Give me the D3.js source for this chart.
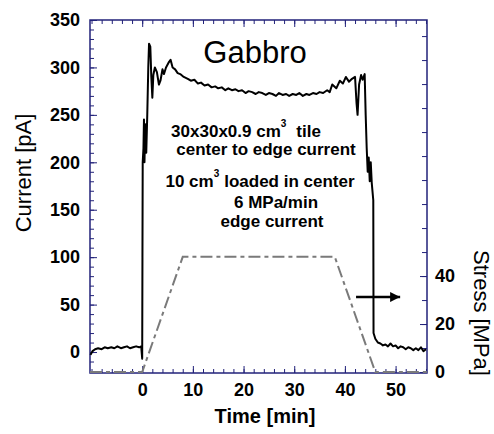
<!DOCTYPE html>
<html>
<head>
<meta charset="utf-8">
<script src="https://cdn.jsdelivr.net/npm/d3@7"></script>
<style>
  body { margin: 0; background: #fff; }
  svg { font-family: "Liberation Sans", Arial, Helvetica, sans-serif; }
  .tick text { font-weight: bold; font-size: 18px; fill: #000; }
  .tick line { stroke: #22227a; }
</style>
</head>
<body>
<svg id="chart" width="494" height="434"></svg>
<script>
// current (pA) vs time (min)
const currentTime = [
  -10.2, -9.8, -9.3, -8.7, -8.0, -7.4, -6.8, -6.1, -5.5, -4.9, -4.2, -3.6, -3.0, -2.4, -1.8, -1.2, -0.6, -0.2,
  0.0, 0.05, 0.1, 0.25, 0.35, 0.45, 0.6, 0.8, 1.0, 1.2, 1.35, 1.6, 1.8, 2.0, 2.2, 2.5, 2.9, 3.3, 3.6, 4.0, 4.3,
  4.7, 5.2, 5.6, 6.0, 6.5, 7.0, 7.5, 8.2, 9.0, 9.6, 10.3, 11.0, 11.6, 12.3, 13.0, 13.7, 14.4, 15.0, 15.7, 16.4,
  17.0, 17.7, 18.4, 19.0, 19.7, 20.4, 21.0, 21.7, 22.4, 23.0, 23.7, 24.4, 25.0, 25.7, 26.4, 27.0, 27.7, 28.4,
  29.0, 29.7, 30.4, 31.0, 31.7, 32.4, 33.0, 33.7, 34.4, 35.0, 35.7, 36.5, 37.0, 37.5, 38.3, 39.0,
  39.6, 40.2, 40.8, 41.4, 42.0, 42.3, 42.5, 42.8, 43.2, 43.5, 43.9, 44.1, 44.3, 44.5, 44.7, 44.9, 45.1, 45.3,
  45.6, 45.65, 46.0, 46.5, 47.0, 47.5, 48.0, 48.5, 49.0, 49.5, 50.0, 50.5, 51.0, 51.5, 52.0, 52.5, 53.0, 53.5,
  54.0, 54.5, 55.0, 55.5, 56.0
];
const currentValue = [
  -3, 1, 3, 4, 3, 5, 4, 5, 4, 6, 4, 5, 6, 4, 5, 6, 5, 6,
  -7, 100, 200, 215, 245, 200, 240, 210, 250, 300, 325, 322, 290, 268, 292, 300, 295, 282, 286, 298, 293,
  300, 305, 308, 300, 298, 294, 293, 290, 288, 286, 287, 283, 284, 281, 282, 279, 280, 278, 279, 276,
  278, 276, 277, 275, 276, 273, 275, 274, 272, 274, 273, 271, 273, 272, 270, 273, 271, 272,
  270, 272, 271, 273, 270, 272, 271, 273, 272, 274, 273, 276, 274, 282, 278, 286,
  283, 290, 285, 288, 290, 262, 250, 282, 292, 287, 293, 250, 215, 190, 205, 180, 200, 178,
  160, 20, 14, 10, 9, 7, 8, 6, 9, 6, 7, 4, 6, 5, 3, 5, 4, 2,
  4, 2, 5, 1, 3
];

// applied stress (MPa) vs time (min)
const stressTime = [-10.3, 0, 8, 38, 46, 56.2];
const stressValue = [0, 0, 48, 48, 0, 0];

const currentTicks = [0, 50, 100, 150, 200, 250, 300, 350];
const timeTicks = [0, 10, 20, 30, 40, 50];
const stressTicks = [0, 20, 40];

const noteLines = [
  { text: "30x30x0.9 cm", sup: "3", tail: "tile" },
  { text: "center to edge current" },
  { text: "10 cm", sup: "3", tail: "loaded in center" },
  { text: "6 MPa/min" },
  { text: "edge current" }
];

const svg = d3.select("#chart");
const axisColor = "#22227a";

const x = d3.scaleLinear().domain([-10.3, 56.2]).range([90, 427]);
const y = d3.scaleLinear().domain([-22.1, 350]).range([373, 20]);
const y2 = d3.scaleLinear().domain([-0.4, 146.7]).range([373, 20]);

// minor ticks
svg.append("g").attr("transform", "translate(90,0)")
  .call(d3.axisLeft(y).tickValues(d3.range(-20, 351, 10)).tickFormat("").tickSizeInner(-4).tickSizeOuter(0));
svg.append("g").attr("transform", "translate(0,373)")
  .call(d3.axisBottom(x).tickValues(d3.range(-10, 57, 2)).tickFormat("").tickSizeInner(-4).tickSizeOuter(0));
svg.append("g").attr("transform", "translate(0,20)")
  .call(d3.axisTop(x).tickValues(d3.range(-10, 57, 2)).tickFormat("").tickSizeInner(-4).tickSizeOuter(0));
svg.append("g").attr("transform", "translate(427,0)")
  .call(d3.axisRight(y2).tickValues(d3.range(0, 147, 10)).tickFormat("").tickSizeInner(-5).tickSizeOuter(0));

// major ticks with labels
svg.append("g").attr("transform", "translate(90,0)")
  .call(d3.axisLeft(y).tickValues(currentTicks).tickSizeInner(-7).tickSizeOuter(0).tickPadding(10));
svg.append("g").attr("transform", "translate(0,373)")
  .call(d3.axisBottom(x).tickValues(timeTicks).tickSizeInner(-7).tickSizeOuter(0).tickPadding(10));
svg.append("g").attr("transform", "translate(0,20)")
  .call(d3.axisTop(x).tickValues(timeTicks).tickFormat("").tickSizeInner(-7).tickSizeOuter(0));
svg.append("g").attr("transform", "translate(427,0)")
  .call(d3.axisRight(y2).tickValues(stressTicks).tickSizeInner(-7).tickSizeOuter(0).tickPadding(8));

svg.selectAll(".domain").remove();

// frame
svg.append("rect")
  .attr("x", 90).attr("y", 20).attr("width", 337).attr("height", 353)
  .attr("fill", "none").attr("stroke", axisColor).attr("stroke-width", 1.5);

// stress curve
const stressLine = d3.line().x((d, i) => x(stressTime[i])).y((d) => y2(d));
svg.append("path")
  .attr("d", stressLine(stressValue))
  .attr("fill", "none")
  .attr("stroke", "#7a7a7a")
  .attr("stroke-width", 2)
  .attr("stroke-dasharray", "12,4,4,4");

// current curve
const currentLine = d3.line().x((d, i) => x(currentTime[i])).y((d) => y(d));
svg.append("path")
  .attr("d", currentLine(currentValue))
  .attr("fill", "none")
  .attr("stroke", "#000")
  .attr("stroke-width", 2)
  .attr("stroke-linejoin", "round");

// arrow pointing to the stress axis
svg.append("defs").append("marker")
  .attr("id", "head").attr("viewBox", "0 0 10 10")
  .attr("refX", 10).attr("refY", 5)
  .attr("markerWidth", 6).attr("markerHeight", 4)
  .attr("markerUnits", "strokeWidth")
  .attr("orient", "auto")
  .append("path").attr("d", "M0,0 L10,5 L0,10 z").attr("fill", "#000");
svg.append("line")
  .attr("x1", x(42.2)).attr("y1", y(58))
  .attr("x2", x(50.9)).attr("y2", y(58))
  .attr("stroke", "#000").attr("stroke-width", 2.5)
  .attr("marker-end", "url(#head)");

// title
svg.append("text")
  .attr("x", 255).attr("y", 63)
  .attr("text-anchor", "middle")
  .attr("font-size", 31)
  .text("Gabbro");

// notes
const noteX = [246, 266, 260, 276, 272];
const noteY = [137, 155, 187, 208, 227];
noteLines.forEach((n, i) => {
  const t = svg.append("text")
    .attr("x", noteX[i]).attr("y", noteY[i])
    .attr("text-anchor", "middle")
    .attr("font-size", 17)
    .attr("font-weight", "bold");
  t.append("tspan").text(n.text);
  if (n.sup) {
    t.append("tspan").attr("font-size", 10).attr("dy", -10).text(n.sup);
    t.append("tspan").attr("dy", 10).attr("dx", i === 0 ? 10 : 5).text(n.tail);
  }
});

// axis titles
svg.append("text")
  .attr("transform", "translate(31,173) rotate(-90)")
  .attr("text-anchor", "middle")
  .attr("font-size", 22)
  .text("Current [pA]");
svg.append("text")
  .attr("x", 265).attr("y", 423)
  .attr("text-anchor", "middle")
  .attr("font-size", 20)
  .attr("font-weight", "bold")
  .text("Time [min]");
svg.append("text")
  .attr("transform", "translate(474,313) rotate(90)")
  .attr("text-anchor", "middle")
  .attr("font-size", 22)
  .text("Stress [MPa]");
</script>
</body>
</html>
